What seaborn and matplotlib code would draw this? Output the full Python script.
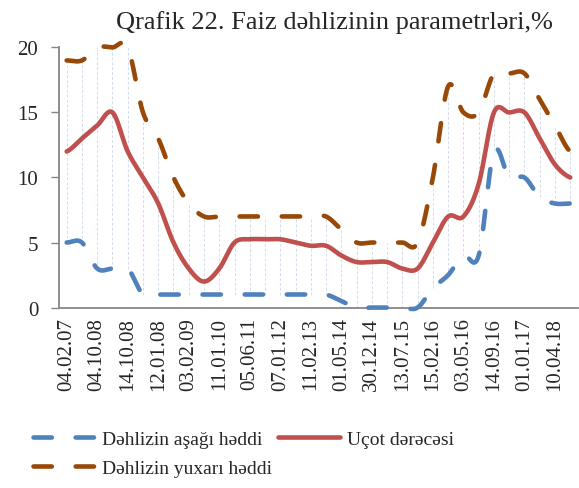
import numpy as np
import pandas as pd
import seaborn as sns
import matplotlib.pyplot as plt

# tick labels (every second observation is labelled)
date_labels = ["04.02.07", "04.10.08", "14.10.08", "12.01.08", "03.02.09", "11.01.10",
               "05.06.11", "07.01.12", "11.02.13", "01.05.14", "30.12.14", "13.07.15",
               "15.02.16", "03.05.16", "14.09.16", "01.01.17", "10.04.18"]

lower = [5, 5, 3, 3, 3, 1, 1, 1, 1, 1, 1, 1, 1, 1, 1, 1, 1, 1, 0.5,
         0, 0, 0, 0, 0, 1.5, 2.5, 4, 4, 12, 10, 10, 8.5, 8, 8]
rate = [12, 13, 14, 15, 12, 10, 8, 5, 3, 2, 3, 5, 5.25, 5.25, 5.25, 5, 4.75, 4.75, 4,
        3.5, 3.5, 3.5, 3, 3, 5, 7, 7, 9.5, 15, 15, 15, 13, 11, 10]
upper = [19, 19, 20, 20, 20, 15, 13, 10, 8, 7, 7, 7, 7, 7, 7, 7, 7, 7, 6,
         5, 5, 5, 5, 5, 10, 17, 15, 15, 18, 18, 18, 16, 14, 12]

names = ["Dəhlizin aşağı həddi", "Uçot dərəcəsi", "Dəhlizin yuxarı həddi"]
colors = ["#4F81BD", "#C0504D", "#984807"]


# smooth line like the spreadsheet "smoothed line" option (Catmull-Rom)
def smooth(values, n=24):
    y = np.asarray(values, dtype=float)
    p = np.concatenate([[y[0]], y, [y[-1]]])
    xs, ys = [], []
    t = np.linspace(0, 1, n, endpoint=False)
    for i in range(len(y) - 1):
        p0, p1, p2, p3 = p[i], p[i + 1], p[i + 2], p[i + 3]
        m1 = (p2 - p0) / 2
        m2 = (p3 - p1) / 2
        h00 = 2 * t**3 - 3 * t**2 + 1
        h10 = t**3 - 2 * t**2 + t
        h01 = -2 * t**3 + 3 * t**2
        h11 = t**3 - t**2
        xs.append(i + t)
        ys.append(h00 * p1 + h10 * m1 + h01 * p2 + h11 * m2)
    xs.append([len(y) - 1])
    ys.append([y[-1]])
    return np.concatenate(xs), np.concatenate(ys)


sns.set_style("white")
plt.rcParams['font.family'] = ['Liberation Serif', 'DejaVu Serif']

fig = plt.figure(figsize=(5.79, 4.89), dpi=100)
ax = fig.add_axes([0.102, 0.369, 0.896, 0.532])

idx = np.arange(len(rate))
lo = np.minimum(np.minimum(lower, rate), upper)
hi = np.maximum(np.maximum(lower, rate), upper)
ax.vlines(idx, lo, hi, colors="#D3DDEC", linestyles=(0, (3, 2)), linewidth=0.7, zorder=1)

dash = (0, (4.0, 5.2))
for vals, name, col in zip([lower, rate, upper], names, colors):
    xs, ys = smooth(vals)
    df = pd.DataFrame({"x": xs, "y": ys})
    sns.lineplot(data=df, x="x", y="y", ax=ax, color=col, linewidth=3.3,
                 label=name, sort=False, estimator=None, clip_on=False,
                 linestyle="-" if name == names[1] else dash,
                 solid_capstyle="round", dash_capstyle="round", zorder=3)

ax.set_xlim(-0.5, len(rate) - 0.5)
ax.set_ylim(0, 20)
ax.set_yticks([0, 5, 10, 15, 20])
ax.set_xticks(idx[::2])
ax.set_xticklabels(date_labels, rotation=90)
ax.set_xlabel("")
ax.set_ylabel("")
ax.tick_params(axis="x", length=0, pad=7, labelsize=15)
ax.tick_params(axis="y", length=6, width=1, color="#868686", direction="out", pad=9, labelsize=15, left=True)
for s in ["top", "right"]:
    ax.spines[s].set_visible(False)
for s in ["left", "bottom"]:
    ax.spines[s].set_color("#868686")
    ax.spines[s].set_linewidth(1.3)

fig.text(0.577, 0.953, "Qrafik 22. Faiz dəhlizinin parametrləri,%", ha="center", va="center", fontsize=19)

handles, labels = ax.get_legend_handles_labels()
ax.get_legend().remove()
order = [0, 2, 1]
fig.legend([handles[i] for i in order], [labels[i] for i in order], ncol=2, frameon=False,
           loc="upper left", bbox_to_anchor=(0.040, 0.138), fontsize=14, handlelength=3.2,
           handletextpad=0.35, columnspacing=0.3, labelspacing=0.6, borderpad=0)

fig.savefig("out.png", dpi=100)
